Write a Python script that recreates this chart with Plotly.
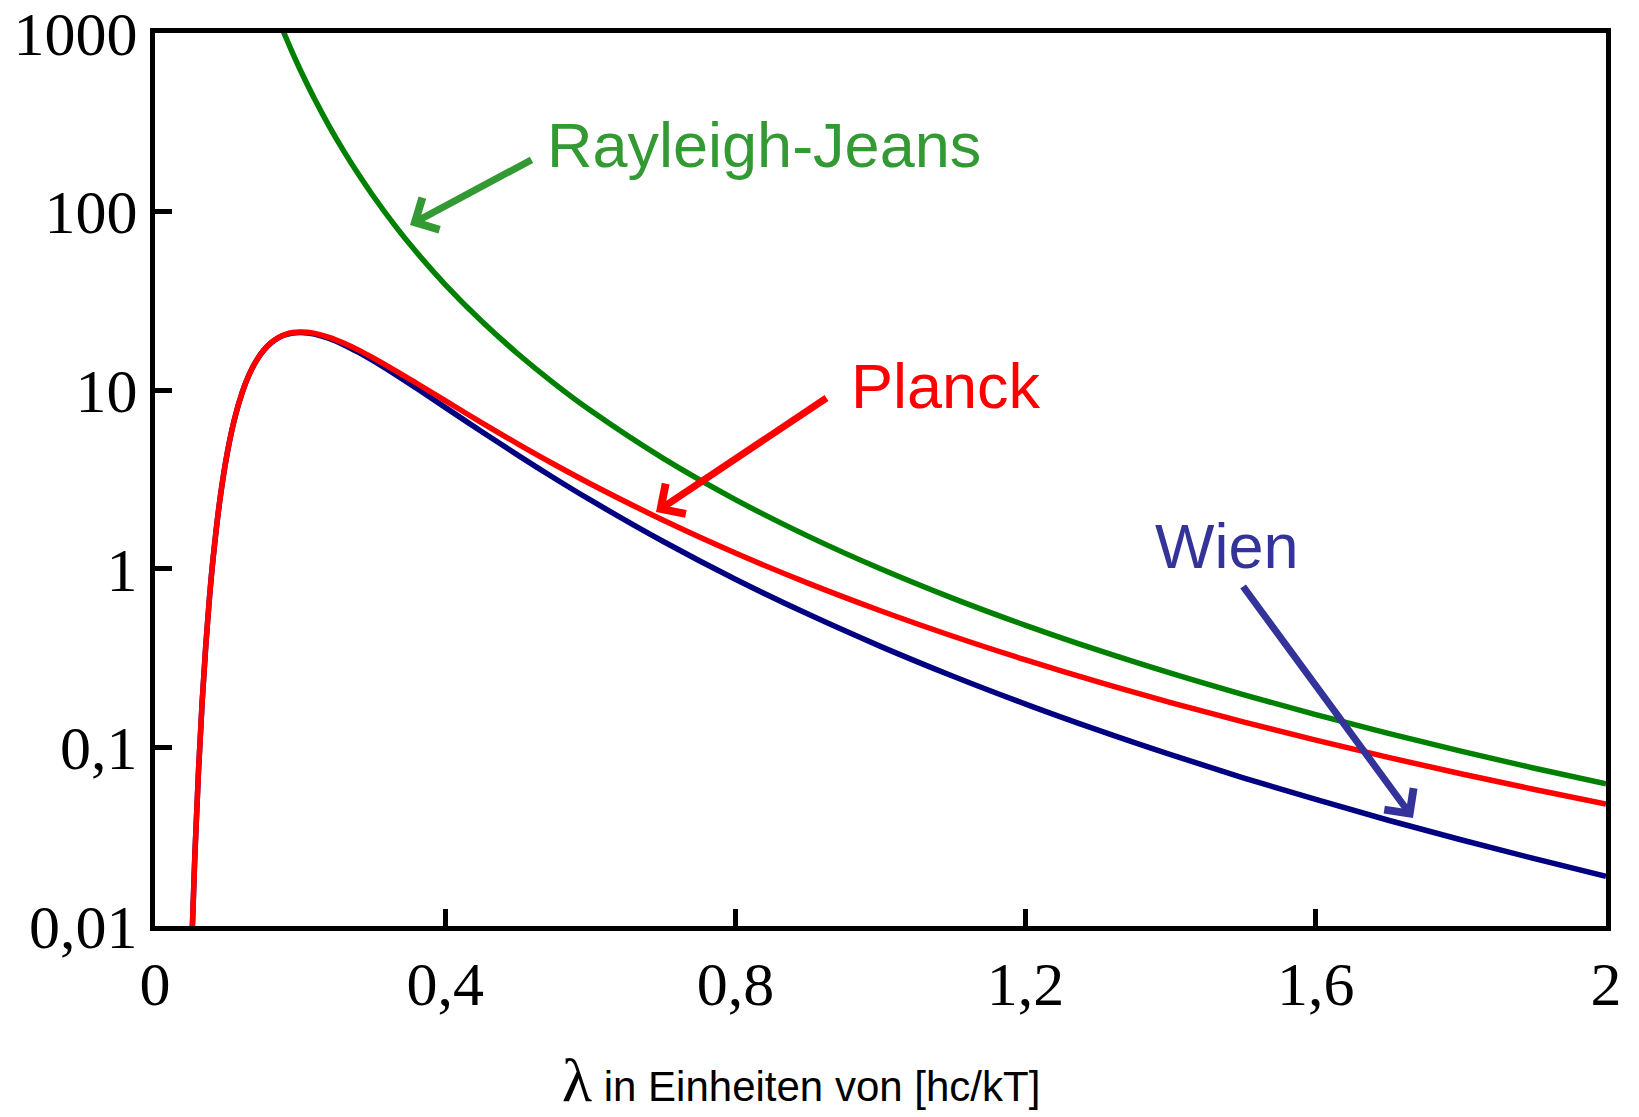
import plotly.graph_objects as go

# wavelength in units of hc/kT
lam = [0.05, 0.055, 0.06, 0.065, 0.07, 0.075, 0.08, 0.09, 0.10, 0.11, 0.12, 0.13,
       0.14, 0.15, 0.16, 0.17, 0.18, 0.19, 0.20, 0.21, 0.22, 0.24, 0.26, 0.28,
       0.30, 0.33, 0.36, 0.40, 0.45, 0.50, 0.55, 0.60, 0.70, 0.80, 0.90, 1.0,
       1.1, 1.2, 1.3, 1.4, 1.5, 1.6, 1.7, 1.8, 1.9, 2.0]

planck = [0.0066, 0.0252, 0.0743, 0.180, 0.372, 0.683, 1.137, 2.531, 4.540, 6.998,
          9.662, 12.30, 14.71, 16.78, 18.45, 19.70, 20.54, 21.03, 21.20, 21.11,
          20.82, 19.78, 18.37, 16.81, 15.22, 12.97, 10.97, 8.733, 6.586, 5.009,
          3.850, 2.995, 1.876, 1.226, 0.831, 0.582, 0.419, 0.309, 0.2325, 0.1783,
          0.1390, 0.1098, 0.0879, 0.0712, 0.0583, 0.0482]

wien = [0.0066, 0.0252, 0.0743, 0.180, 0.372, 0.683, 1.137, 2.531, 4.540, 6.998,
        9.660, 12.29, 14.70, 16.76, 18.41, 19.64, 20.46, 20.92, 21.06, 20.93,
        20.60, 19.47, 17.98, 16.34, 14.68, 12.34, 10.28, 8.016, 5.873, 4.331,
        3.225, 2.429, 1.426, 0.874, 0.5575, 0.3679, 0.2502, 0.1747, 0.1248, 0.0910,
        0.0676, 0.0511, 0.0391, 0.0304, 0.0239, 0.0190]

lam_rj = [0.17, 0.18, 0.19, 0.20, 0.22, 0.24, 0.26, 0.28, 0.30, 0.33, 0.36, 0.40,
          0.45, 0.50, 0.55, 0.60, 0.70, 0.80, 0.90, 1.0, 1.1, 1.2, 1.3, 1.4, 1.5,
          1.6, 1.7, 1.8, 1.9, 2.0]
rayleigh = [1197.3, 952.6, 767.3, 625.0, 426.9, 301.4, 218.8, 162.7, 123.5, 84.32,
            59.54, 39.06, 24.39, 16.0, 10.93, 7.716, 4.165, 2.441, 1.524, 1.0,
            0.683, 0.4823, 0.3501, 0.2603, 0.1975, 0.1526, 0.1197, 0.0953, 0.0767,
            0.0625]

x_ticks = [0, 0.4, 0.8, 1.2, 1.6, 2]
x_tick_text = ["0", "0,4", "0,8", "1,2", "1,6", "2"]
y_ticks = [0.01, 0.1, 1, 10, 100, 1000]
y_tick_text = ["0,01", "0,1", "1", "10", "100", "1000"]

W, H = 1639, 1117
L, R, T, B = 155, 33, 33, 191
PW, PH = W - L - R, H - T - B


def px(xp):
    return (xp - L) / PW


def py(yp):
    return (H - B - yp) / PH


fig = go.Figure()
fig.add_trace(go.Scatter(x=lam_rj, y=rayleigh, mode="lines", name="Rayleigh-Jeans",
                         line=dict(color="#008000", width=5.5, shape="spline")))
fig.add_trace(go.Scatter(x=lam, y=wien, mode="lines", name="Wien",
                         line=dict(color="#000080", width=5.5, shape="spline")))
fig.add_trace(go.Scatter(x=lam, y=planck, mode="lines", name="Planck",
                         line=dict(color="#FF0000", width=5.5, shape="spline")))

axis_common = dict(showline=True, linewidth=5, linecolor="black", mirror=True,
                   ticks="inside", ticklen=17, tickwidth=5, tickcolor="black",
                   showgrid=False, zeroline=False, automargin=False,
                   ticklabeloverflow="allow",
                   tickfont=dict(family="Liberation Serif", size=62, color="black"))

fig.update_xaxes(range=[0, 2], tickvals=x_ticks, ticktext=x_tick_text, **axis_common)
fig.update_yaxes(type="log", range=[-2, 3], tickvals=y_ticks, ticktext=y_tick_text,
                 **axis_common)

annotations = []
# Labels
annotations.append(dict(x=px(545), y=py(145), xref="paper", yref="paper",
                        text="Rayleigh-Jeans", showarrow=False, xanchor="left",
                        yanchor="middle",
                        font=dict(family="Liberation Sans", size=63, color="#339933")))
annotations.append(dict(x=px(849), y=py(386), xref="paper", yref="paper",
                        text="Planck", showarrow=False, xanchor="left", yanchor="middle",
                        font=dict(family="Liberation Sans", size=63, color="#FF0000")))
annotations.append(dict(x=px(1153), y=py(546), xref="paper", yref="paper",
                        text="Wien", showarrow=False, xanchor="left", yanchor="middle",
                        font=dict(family="Liberation Sans", size=63, color="#333399")))

# Arrows (head at x,y; tail offset ax,ay in pixels)
for (hx, hy, tx, ty, col) in [(410, 225, 533, 159, "#339933"),
                              (656, 512, 828, 397, "#FF0000"),
                              (1413, 818, 1242, 585, "#333399")]:
    annotations.append(dict(x=px(hx), y=py(hy), xref="paper", yref="paper",
                            text="", showarrow=True, ax=tx - hx, ay=ty - hy,
                            arrowhead=4, arrowsize=1, arrowwidth=7, arrowcolor=col,
                            standoff=0, startstandoff=0))

# Axis title
annotations.append(dict(x=px(801), y=py(1080), xref="paper", yref="paper",
                        text="<span style='font-family:Liberation Serif;font-size:62px'>λ</span> in Einheiten von [hc/kT]",
                        showarrow=False, xanchor="center", yanchor="middle",
                        font=dict(family="Liberation Sans", size=42, color="black")))

fig.update_layout(width=W, height=H, margin=dict(l=L, r=R, t=T, b=B),
                  paper_bgcolor="white", plot_bgcolor="white", showlegend=False,
                  annotations=annotations)

fig.write_html("out.html")
